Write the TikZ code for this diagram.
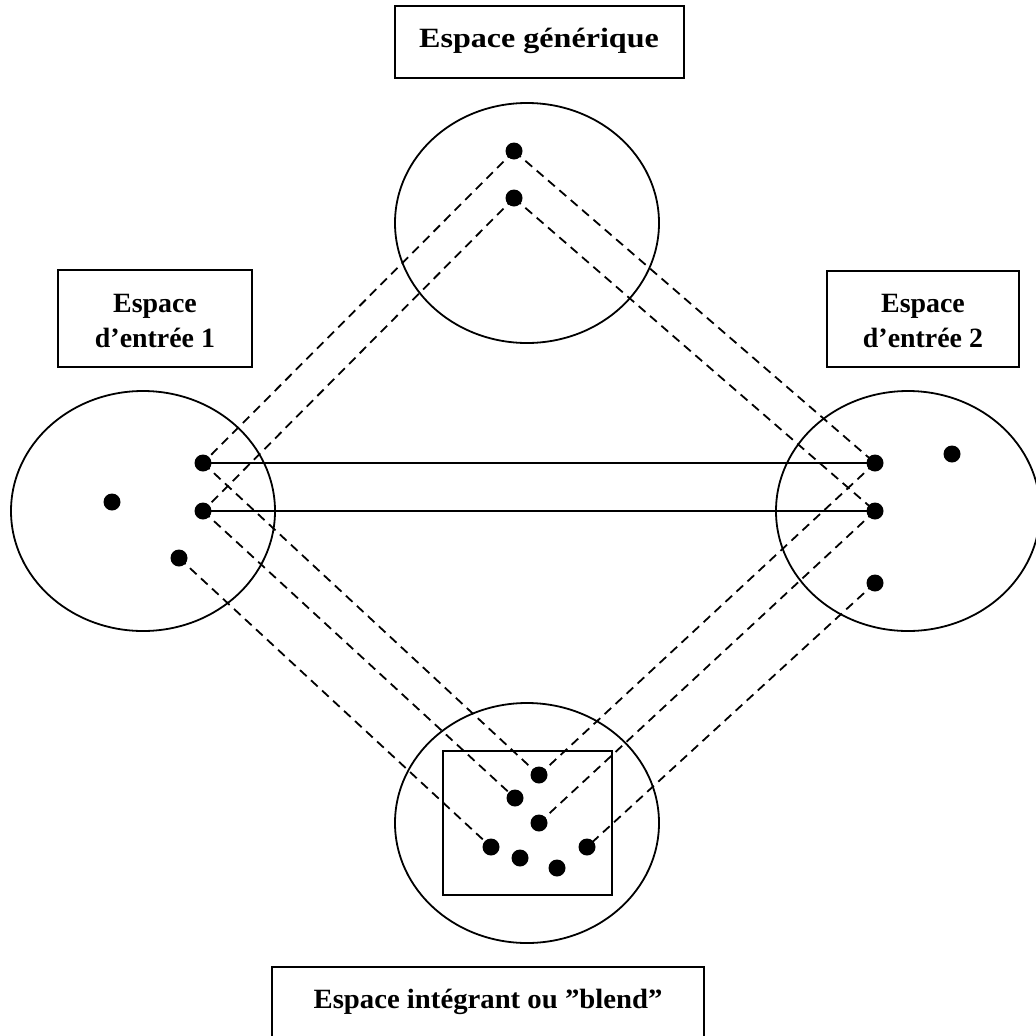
\documentclass[tikz,border=0pt]{standalone}
\usepackage{fontspec}
\setmainfont{Liberation Serif}
\usetikzlibrary{shapes.geometric}
\tikzset{
  space/.style={draw, line width=1.8bp, ellipse, inner sep=0pt, minimum width=264bp, minimum height=240bp},
  elem/.style={circle, fill=black, inner sep=0pt, minimum size=17bp},
  frame/.style={draw, line width=1.7bp},
  label/.style={font=\bfseries\fontsize{28}{35}\selectfont, anchor=base, inner sep=0pt},
  link/.style={line width=1.8bp, dash pattern=on 9bp off 6bp},
  match/.style={line width=1.7bp}
}
\begin{document}
\begin{tikzpicture}[x=1bp,y=-1bp]
\useasboundingbox (0,0) rectangle (1036,1036);
\fill[white] (0,0) rectangle (1036,1036);

% title boxes
\draw[frame] (395,6) rectangle (684,78);
\node[label, xscale=1.15] (tg) at (539,47) {Espace générique};
\draw[frame] (58,270) rectangle (252,367);
\node[label] (t1a) at (155,312) {Espace};
\node[label] (t1b) at (155,347) {d’entrée 1};
\draw[frame] (827,271) rectangle (1019,367);
\node[label] (t2a) at (923,312) {Espace};
\node[label] (t2b) at (923,347) {d’entrée 2};
\draw[frame] (272,967) rectangle (704,1050);
\node[label, xscale=1.03] (tb) at (488,1008) {Espace intégrant ou ”blend”};

% mental spaces
\node[space] (gen) at (527,223) {};
\node[space] (in1) at (143,511) {};
\node[space] (in2) at (908,511) {};
\node[space] (bl) at (527,823) {};
\draw[frame] (443,751) rectangle (612,895);

% elements: generic space
\node[elem] (g1) at (514,151) {};
\node[elem] (g2) at (514,198) {};
% elements: input 1
\node[elem] (a1) at (203,463) {};
\node[elem] (a2) at (203,511) {};
\node[elem] (a3) at (112,502) {};
\node[elem] (a4) at (179,558) {};
% elements: input 2
\node[elem] (b1) at (875,463) {};
\node[elem] (b2) at (875,511) {};
\node[elem] (b3) at (952,454) {};
\node[elem] (b4) at (875,583) {};
% elements: blend
\node[elem] (c1) at (539,775) {};
\node[elem] (c2) at (515,798) {};
\node[elem] (c3) at (539,823) {};
\node[elem] (c4) at (491,847) {};
\node[elem] (c5) at (520,858) {};
\node[elem] (c6) at (557,868) {};
\node[elem] (c7) at (587,847) {};

% cross-space mapping
\draw[match] (a1.center) -- (b1.center);
\draw[match] (a2.center) -- (b2.center);

% projections from the generic space
\draw[link] (g1.center) -- (a1.center);
\draw[link] (g2.center) -- (a2.center);
\draw[link] (g1.center) -- (b1.center);
\draw[link] (g2.center) -- (b2.center);

% projections to the blend
\draw[link] (a1.center) -- (c1.center);
\draw[link] (a2.center) -- (c2.center);
\draw[link] (a4.center) -- (c4.center);
\draw[link] (b1.center) -- (c1.center);
\draw[link] (b2.center) -- (c3.center);
\draw[link] (b4.center) -- (c7.center);
\end{tikzpicture}
\end{document}
